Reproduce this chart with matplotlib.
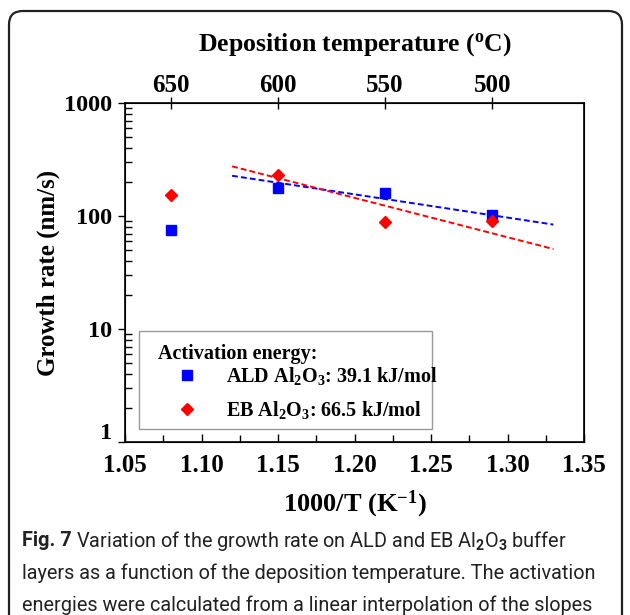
import numpy as np
import matplotlib
matplotlib.use('Agg')
import matplotlib.pyplot as plt
from matplotlib.patches import FancyBboxPatch, Rectangle
from matplotlib.transforms import ScaledTranslation

plt.rcParams['font.family'] = ['Liberation Serif', 'DejaVu Serif']
plt.rcParams['font.weight'] = 'bold'
plt.rcParams['axes.labelweight'] = 'bold'
plt.rcParams['mathtext.fontset'] = 'custom'
plt.rcParams['mathtext.rm'] = 'Liberation Serif:bold'
plt.rcParams['mathtext.it'] = 'Liberation Serif:bold'
plt.rcParams['mathtext.bf'] = 'Liberation Serif:bold'
plt.rcParams['mathtext.sf'] = 'Roboto'

# data
inv_t = [1.08, 1.15, 1.22, 1.29]          # 1000/T (K^-1)
temp_labels = ['650', '600', '550', '500']  # deposition temperature (C)
ald_rate = [75, 177, 160, 103]            # nm/s
eb_rate = [154, 230, 88, 91]              # nm/s

fit_x = [1.12, 1.33]
ald_fit = [227, 84]
eb_fit = [275, 51]

ald_label = r'ALD Al$_{\mathrm{2}}$O$_{\mathrm{3}}$: 39.1 kJ/mol'
eb_label = r'EB Al$_{\mathrm{2}}$O$_{\mathrm{3}}$: 66.5 kJ/mol'

fig = plt.figure(figsize=(6.3, 6.15), dpi=100)
ax = fig.add_axes([125 / 630, 1 - 442 / 615, 459 / 630, 339 / 615])

ax.plot(inv_t, ald_rate, 's', color='#0000ff', ms=6.8, label=ald_label, zorder=3)
ax.plot(inv_t, eb_rate, 'D', color='#ff0000', ms=6.5, label=eb_label, zorder=3)
ax.plot(fit_x, ald_fit, '--', color='#0000ff', lw=1.4, dashes=(3, 1.6))
ax.plot(fit_x, eb_fit, '--', color='#ff0000', lw=1.4, dashes=(3, 1.6))

ax.set_yscale('log')
ax.set_ylim(1, 1000)
ax.set_xlim(1.05, 1.35)
ax.set_xticks(np.arange(1.05, 1.351, 0.05))
ax.set_xticks(np.arange(1.075, 1.35, 0.05), minor=True)
ax.set_xticklabels(['%.2f' % v for v in np.arange(1.05, 1.351, 0.05)])
ax.set_yticks([1, 10, 100, 1000])
ax.set_yticklabels(['1', '10', '100', '1000'])
ax.tick_params(axis='x', which='both', direction='in', labelsize=18, pad=9)
ax.tick_params(axis='x', which='major', length=6, width=1)
ax.tick_params(axis='x', which='minor', length=5, width=1)
ax.tick_params(axis='y', which='major', direction='out', length=5, width=1, labelsize=17.5, pad=4.5)
ax.tick_params(axis='y', which='minor', direction='in', length=5, width=1)
for s in ax.spines.values():
    s.set_linewidth(1.2)
# the "1" label sits a little above its tick in the original
ax.get_yticklabels()[0].set_transform(
    ax.get_yticklabels()[0].get_transform() + ScaledTranslation(0, 8 / 72, fig.dpi_scale_trans))

ax.set_xlabel(r'1000/T (K$^{\mathrm{-1}}$)', fontsize=19, labelpad=8)
ax.set_ylabel('Growth rate (nm/s)', fontsize=18, labelpad=3)

top = ax.twiny()
top.set_xlim(ax.get_xlim())
top.set_xticks(inv_t)
top.set_xticklabels(temp_labels)
top.tick_params(axis='x', direction='inout', length=8, width=1, labelsize=18, pad=0.5)
top.set_xlabel(r'Deposition temperature ($^{\mathrm{o}}$C)', fontsize=18.5, labelpad=16.5)

# legend: grey box, title and the two entries
ax.add_patch(Rectangle((0.0305, 0.038), 0.6385, 0.289, transform=ax.transAxes,
                       facecolor='white', edgecolor='#999999', lw=1.0, zorder=4))
ax.text(0.072, 0.26, 'Activation energy:', transform=ax.transAxes, fontsize=14.5,
        weight='bold', ha='left', va='center', zorder=5)
leg = ax.legend(loc='center left', bbox_to_anchor=(0.072, 0.145), borderaxespad=0,
                borderpad=0, fontsize=14.5, frameon=False,
                handlelength=2.9, handletextpad=0.45, labelspacing=0.6)
leg.set_zorder(5)

# outer rounded frame of the figure panel
frame = FancyBboxPatch((9 / 630, -0.05), 613 / 630, 1.05 - 11 / 615,
                       boxstyle='round,pad=0,rounding_size=0.022',
                       transform=fig.transFigure, fill=False,
                       edgecolor='#222222', lw=1.6, clip_on=False)
fig.patches.append(frame)

cap_font = ['Roboto', 'DejaVu Sans']
lines = [
    r'Variation of the growth rate on ALD and EB Al$_{\mathsf{2}}$O$_{\mathsf{3}}$ buffer',
    'layers as a function of the deposition temperature. The activation',
    'energies were calculated from a linear interpolation of the slopes',
]
line_y = [541, 573, 605]

# size the caption so that the second line spans the width of the original
fig.canvas.draw()
renderer = fig.canvas.get_renderer()
probe = fig.text(0, 0, lines[1], fontsize=17, family=cap_font)
w = probe.get_window_extent(renderer).width
probe.remove()
cap_size = 17 * 586 / w

t = fig.text(22 / 630, 1 - line_y[0] / 615, 'Fig. 7', fontsize=cap_size, family=cap_font,
             weight='bold', color='#222222', va='center')
bb = t.get_window_extent(renderer)
fig.text(bb.x1 / 630 + 0.007, 1 - line_y[0] / 615, lines[0], fontsize=cap_size,
         family=cap_font, weight='normal', color='#222222', va='center')
for txt, yy in zip(lines[1:], line_y[1:]):
    fig.text(22 / 630, 1 - yy / 615, txt, fontsize=cap_size, family=cap_font,
             weight='normal', color='#222222', va='center')

fig.savefig('out.png', dpi=100)
